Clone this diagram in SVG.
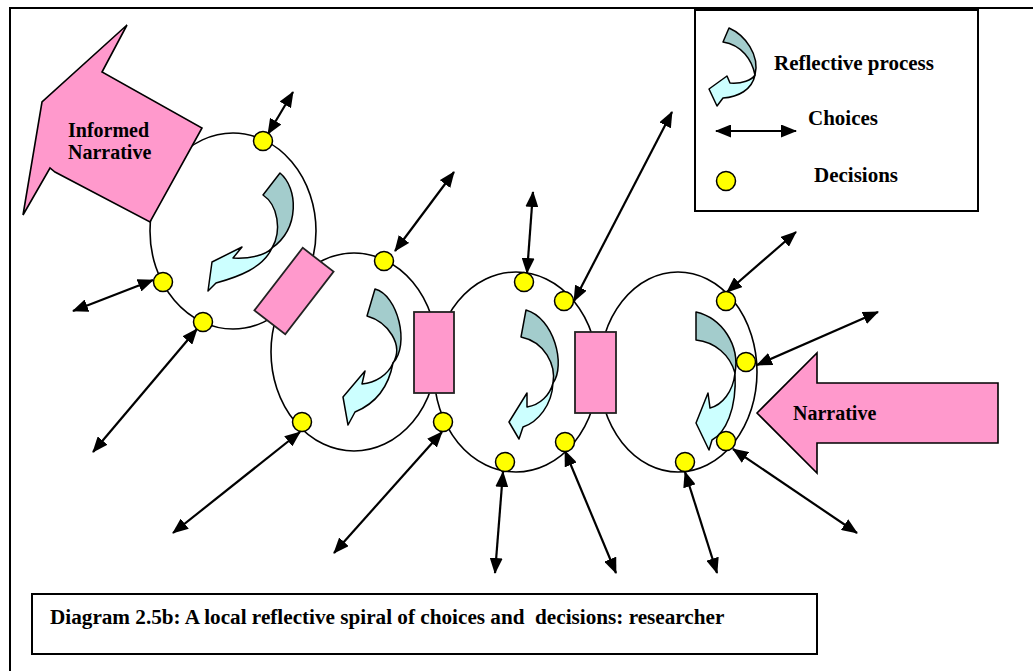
<svg xmlns="http://www.w3.org/2000/svg" width="1033" height="671" viewBox="0 0 1033 671">
<defs>
<style>
.frame{fill:none;stroke:#000;stroke-width:2}
.box{fill:#fff;stroke:#000;stroke-width:2}
.ell{fill:none;stroke:#000;stroke-width:1.6}
.pink{fill:#FF99CC;stroke:#000;stroke-width:1.6}
.rect{fill:#FF99CC;stroke:#222;stroke-width:1.8}
.dark{fill:#A3CCCC;stroke:#000;stroke-width:1.5;stroke-linejoin:round}
.light{fill:#CCFFFF;stroke:#000;stroke-width:1.5;stroke-linejoin:round}
.dot{fill:#FFFF00;stroke:#000;stroke-width:1.5}
.ch{fill:none;stroke:#000;stroke-width:2.2;marker-start:url(#ah);marker-end:url(#ah)}
.t{font-family:"Liberation Serif","Times New Roman",serif;font-weight:bold;fill:#000}
</style>
<marker id="ah" viewBox="0 0 16 13" markerWidth="16" markerHeight="13" refX="15" refY="6.5" markerUnits="userSpaceOnUse" orient="auto-start-reverse">
<path d="M0,0 L16,6.5 L0,13 Z" fill="#000"/>
</marker>
</defs>
<rect width="1033" height="671" fill="#fff"/>
<rect class="frame" x="10" y="8" width="1040" height="690"/>

<g id="ellipses">
<ellipse class="ell" cx="233" cy="231" rx="83" ry="98"/>
<ellipse class="ell" cx="354" cy="352" rx="83" ry="99"/>
<ellipse class="ell" cx="516" cy="372" rx="82" ry="100"/>
<ellipse class="ell" cx="678" cy="372" rx="79" ry="100"/>
</g>

<g id="informed-narrative">
<polygon class="pink" points="127,25 102,72 202,128 150,222 55,172 50,168 23,215 42,102"/>
<text class="t" x="68" y="137" font-size="20">Informed</text>
<text class="t" x="68" y="159" font-size="20">Narrative</text>
</g>

<g id="narrative">
<polygon class="pink" points="757,413 817,353 817,383 998,383 998,443 817,443 817,473"/>
<text class="t" x="793" y="420" font-size="20">Narrative</text>
</g>

<g id="reflective-1">
<path class="dark" d="M280,173 C298,188 300,228 272,248 C282,231 278,205 263,195 Z"/>
<path class="light" d="M272,248 C266,255 250,259 233,258 L242,247 L212,262 L208,291 L216,283 C238,277 263,268 272,248 Z"/>
</g>
<g id="reflective-2">
<path class="dark" d="M375,289 C398,295 410,345 393,363 C404,345 388,322 367,316 Z"/>
<path class="light" d="M393,363 C388,375 375,383 362,384 L365,371 L343,397 L348,425 L355,412 C372,405 388,390 393,363 Z"/>
</g>
<g id="reflective-3">
<path class="dark" d="M526,310 C554,318 566,365 553,383 C556,365 545,342 521,337 Z"/>
<path class="light" d="M553,383 C550,395 540,405 527,407 L527,393 L509,422 L519,439 L523,427 C538,422 552,405 553,383 Z"/>
</g>
<g id="reflective-4">
<path class="dark" d="M696,312 C722,318 740,345 735,373 C730,355 715,342 696,340 Z"/>
<path class="light" d="M735,373 C733,392 722,405 710,408 L708,393 L696,423 L709,450 L712,440 C725,433 737,410 735,373 Z"/>
</g>

<g id="link-boxes">
<rect class="rect" x="-19.5" y="-39.5" width="39" height="79" transform="translate(294,291) rotate(37.7)"/>
<rect class="rect" x="414" y="312" width="40" height="81"/>
<rect class="rect" x="575" y="332" width="41" height="81"/>
</g>

<g id="connectors">
<line class="ch" x1="268" y1="134" x2="293" y2="92"/>
<line class="ch" x1="153" y1="280" x2="73" y2="311"/>
<line class="ch" x1="197" y1="329" x2="93" y2="452"/>
<line class="ch" x1="395" y1="251" x2="454" y2="172"/>
<line class="ch" x1="300" y1="432" x2="173" y2="533"/>
<line class="ch" x1="442" y1="432" x2="334" y2="553"/>
<line class="ch" x1="527" y1="273" x2="533" y2="192"/>
<line class="ch" x1="574" y1="301" x2="672" y2="112"/>
<line class="ch" x1="503" y1="472" x2="495" y2="573"/>
<line class="ch" x1="565" y1="451" x2="616" y2="573"/>
<line class="ch" x1="685" y1="472" x2="717" y2="573"/>
<line class="ch" x1="733" y1="449" x2="857" y2="533"/>
<line class="ch" x1="727" y1="292" x2="796" y2="232"/>
<line class="ch" x1="757" y1="365" x2="878" y2="312"/>
</g>

<g id="decisions">
<circle class="dot" cx="263" cy="141" r="9.5"/>
<circle class="dot" cx="163" cy="282" r="9.5"/>
<circle class="dot" cx="203" cy="322" r="9.5"/>
<circle class="dot" cx="384" cy="261" r="9.5"/>
<circle class="dot" cx="302" cy="422" r="9.5"/>
<circle class="dot" cx="443" cy="422" r="9.5"/>
<circle class="dot" cx="524" cy="282" r="9.5"/>
<circle class="dot" cx="564" cy="301" r="9.5"/>
<circle class="dot" cx="505" cy="462" r="9.5"/>
<circle class="dot" cx="565" cy="442" r="9.5"/>
<circle class="dot" cx="726" cy="301" r="9.5"/>
<circle class="dot" cx="746" cy="362" r="9.5"/>
<circle class="dot" cx="726" cy="441" r="9.5"/>
<circle class="dot" cx="685" cy="462" r="9.5"/>
</g>

<g id="legend">
<rect class="box" x="695" y="10" width="283" height="201"/>
<path class="dark" d="M729,28 C745,35 760,55 755,75 C752,60 742,45 723,42 Z"/>
<path class="light" d="M755,75 C752,80 742,84 730,83 L727,76 L709,89 L717,106 L723,98 C738,97 752,90 755,75 Z"/>
<text class="t" x="774" y="70" font-size="21">Reflective process</text>
<line class="ch" x1="716" y1="131" x2="796" y2="131"/>
<text class="t" x="808" y="125" font-size="21">Choices</text>
<circle class="dot" cx="726" cy="181" r="9.5"/>
<text class="t" x="814" y="182" font-size="21">Decisions</text>
</g>

<g id="caption">
<rect class="box" x="32" y="594" width="785" height="60"/>
<text class="t" x="50" y="624" font-size="21.2" style="white-space:pre">Diagram 2.5b: A local reflective spiral of choices and  decisions: researcher</text>
</g>
</svg>
